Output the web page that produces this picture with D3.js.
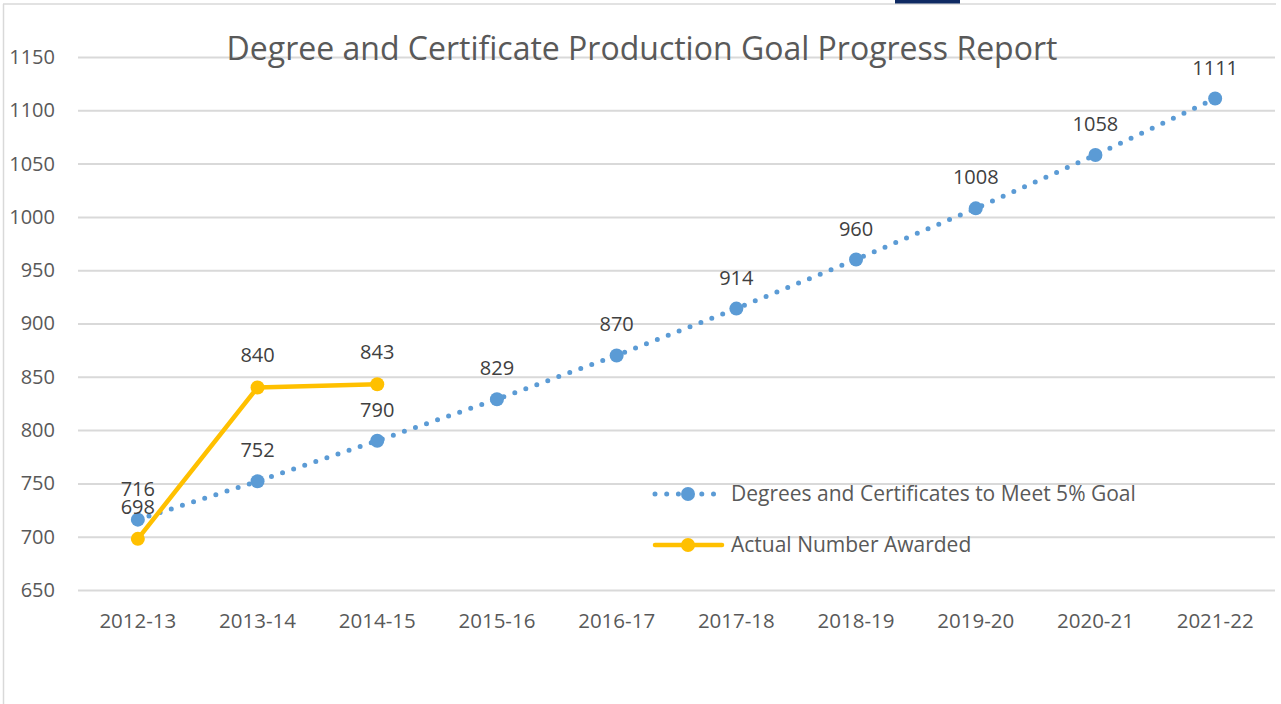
<!DOCTYPE html>
<html>
<head>
<meta charset="utf-8">
<script src="https://cdn.jsdelivr.net/npm/d3@7"></script>
<style>
  body { margin: 0; background: #fff; }
  text { font-family: "Open Sans", "Noto Sans", sans-serif; }
</style>
</head>
<body>
<div id="canvas"></div>
<script>
const years = ["2012-13", "2013-14", "2014-15", "2015-16", "2016-17", "2017-18", "2018-19", "2019-20", "2020-21", "2021-22"];
const goal = [716, 752, 790, 829, 870, 914, 960, 1008, 1058, 1111];
const actual = [698, 840, 843];
const yTicks = [650, 700, 750, 800, 850, 900, 950, 1000, 1050, 1100, 1150];
const seriesNames = ["Degrees and Certificates to Meet 5% Goal", "Actual Number Awarded"];

const width = 1281;
const height = 704;
const margin = { top: 57, left: 78, bottom: 114, right: 6 };
const iwidth = width - margin.left - margin.right;
const iheight = height - margin.top - margin.bottom;

const svg = d3.select("#canvas").append("svg")
  .attr("width", width)
  .attr("height", height);

// frame of the chart area
svg.append("line").attr("x1", 3).attr("x2", 1276).attr("y1", 4).attr("y2", 4)
  .attr("stroke", "#d9d9d9").attr("stroke-width", 1.5);
svg.append("line").attr("x1", 3.5).attr("x2", 3.5).attr("y1", 4).attr("y2", height)
  .attr("stroke", "#d9d9d9").attr("stroke-width", 1.5);
svg.append("rect").attr("x", 895).attr("y", 0).attr("width", 65).attr("height", 3.5)
  .attr("fill", "#0f2a63");

const g = svg.append("g").attr("transform", `translate(${margin.left},${margin.top})`);

const x = d3.scaleBand().domain(years).range([0, iwidth]);
const y = d3.scaleLinear().domain([650, 1150]).range([iheight, 0]);
const cx = (d, i) => x(years[i]) + x.bandwidth() / 2;

// gridlines + y labels
const yAxis = g.append("g").call(d3.axisLeft(y).tickValues(yTicks).tickFormat(d3.format("d")).tickSize(-iwidth).tickPadding(23));
yAxis.select(".domain").remove();
yAxis.selectAll(".tick line").attr("stroke", "#d9d9d9").attr("stroke-width", 2);
yAxis.selectAll(".tick text").attr("fill", "#595959").style("font-size", "20px");

const xAxis = g.append("g").attr("transform", `translate(0,${iheight})`)
  .call(d3.axisBottom(x).tickSize(0).tickPadding(23));
xAxis.select(".domain").remove();
xAxis.selectAll(".tick text").attr("fill", "#595959").style("font-size", "20.5px");

// title
svg.append("text").attr("x", 642).attr("y", 60).attr("text-anchor", "middle")
  .attr("fill", "#595959").style("font-size", "32px").text("Degree and Certificate Production Goal Progress Report");

const line = d3.line().x(cx).y((d) => y(d));

g.append("path").datum(goal).attr("d", line).attr("fill", "none")
  .attr("stroke", "#5b9bd5").attr("stroke-width", 5).attr("stroke-linecap", "round")
  .attr("stroke-dasharray", "0 11.7");
g.append("path").datum(actual).attr("d", line).attr("fill", "none")
  .attr("stroke", "#ffc000").attr("stroke-width", 4.5).attr("stroke-linejoin", "round");

g.selectAll(".gdot").data(goal).enter().append("circle")
  .attr("cx", cx).attr("cy", (d) => y(d)).attr("r", 7).attr("fill", "#5b9bd5");
g.selectAll(".adot").data(actual).enter().append("circle")
  .attr("cx", cx).attr("cy", (d) => y(d)).attr("r", 7).attr("fill", "#ffc000");

const labelStyle = (sel) => sel.attr("text-anchor", "middle").attr("fill", "#404040").style("font-size", "20px");
g.selectAll(".glab").data(goal).enter().append("text")
  .attr("x", cx).attr("y", (d) => y(d) - 24).text((d) => d).call(labelStyle);
g.selectAll(".alab").data(actual).enter().append("text")
  .attr("x", cx).attr("y", (d) => y(d) - 25).text((d) => d).call(labelStyle);

// legend
const legend = svg.append("g");
const lg1 = legend.append("g").attr("transform", "translate(653,494)");
lg1.append("line").attr("x1", 2).attr("x2", 64).attr("stroke", "#5b9bd5").attr("stroke-width", 5)
  .attr("stroke-linecap", "round").attr("stroke-dasharray", "0 11.7");
lg1.append("circle").attr("cx", 35).attr("r", 7).attr("fill", "#5b9bd5");
lg1.append("text").attr("x", 78).attr("y", 7).attr("fill", "#595959").style("font-size", "21px").text(seriesNames[0]);

const lg2 = legend.append("g").attr("transform", "translate(653,545)");
lg2.append("line").attr("x1", 2).attr("x2", 69).attr("stroke", "#ffc000").attr("stroke-width", 4.5)
  .attr("stroke-linecap", "round");
lg2.append("circle").attr("cx", 35).attr("r", 7).attr("fill", "#ffc000");
lg2.append("text").attr("x", 78).attr("y", 7).attr("fill", "#595959").style("font-size", "21px").text(seriesNames[1]);
</script>
</body>
</html>
